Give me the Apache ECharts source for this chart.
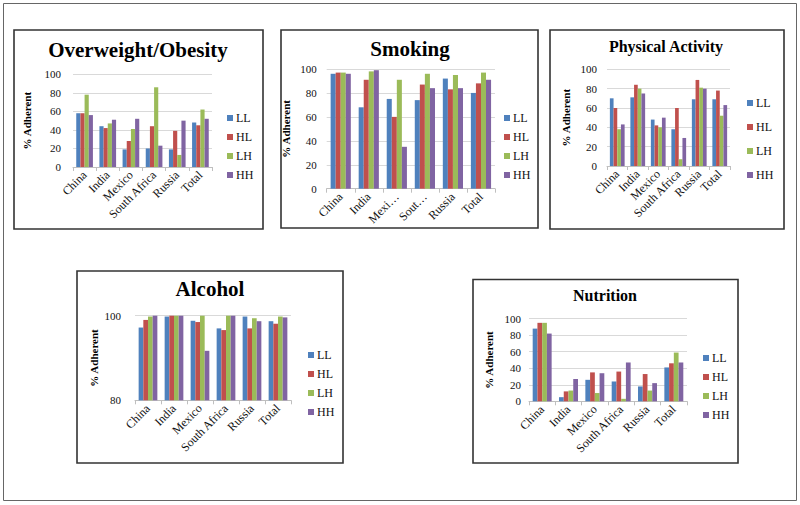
<!DOCTYPE html>
<html>
<head>
<meta charset="utf-8">
<script src="https://cdn.jsdelivr.net/npm/echarts@6/dist/echarts.min.js"></script>
<style>
html,body{margin:0;padding:0;background:#fff;}
#chart{width:800px;height:505px;}
</style>
</head>
<body>
<div id="chart"></div>
<script>
// ---------- data ----------
const categories = ['China', 'India', 'Mexico', 'South Africa', 'Russia', 'Total'];
const smokingLabels = ['China', 'India', 'Mexi…', 'Sout…', 'Russia', 'Total'];
const seriesNames = ['LL', 'HL', 'LH', 'HH'];

const overweightLL = [58, 44, 19, 20, 19, 48];
const overweightHL = [58, 42, 28, 44, 39, 45];
const overweightLH = [78, 47, 41, 86, 13, 62];
const overweightHH = [56, 51, 52, 23, 50, 52];

const smokingLL = [96, 68, 75, 74, 92, 80];
const smokingHL = [97, 91, 60, 87, 83, 88];
const smokingLH = [97, 98, 91, 96, 95, 97];
const smokingHH = [96, 99, 35, 84, 84, 91];

const activityLL = [70, 71, 48, 38, 69, 69];
const activityHL = [60, 84, 42, 60, 89, 78];
const activityLH = [38, 80, 40, 7, 81, 52];
const activityHH = [43, 75, 50, 29, 80, 63];

const alcoholLL = [97.2, 99.8, 98.8, 97.0, 99.8, 98.7];
const alcoholHL = [99.0, 100, 98.5, 96.6, 97.0, 98.1];
const alcoholLH = [99.8, 100, 100, 100, 99.4, 99.8];
const alcoholHH = [100, 100, 91.7, 100, 98.7, 99.6];

const nutritionLL = [88, 5, 26, 24, 18, 41];
const nutritionHL = [95, 12, 35, 36, 33, 46];
const nutritionLH = [95, 13, 10, 3, 13, 59];
const nutritionHH = [82, 27, 34, 47, 22, 47];

const yTicks100 = {min: 0, max: 100, interval: 20};
const yTicksAlcohol = {min: 80, max: 100, interval: 20};

// ---------- layout / style ----------
const colors = ['#4F81BD', '#C0504D', '#9BBB59', '#8064A2'];
const FONT = '"Liberation Serif", "Times New Roman", serif';

const panels = [
  {title: 'Overweight/Obesity', tSize: 21, tx: 138, ty: 52, data: [overweightLL, overweightHL, overweightLH, overweightHH],
   labels: categories, y: yTicks100, grid: {left: 73, top: 74.3, width: 139, height: 92.7}, labelMargin: 12, nameGap: 41,
   legend: {left: 227, top: 112, gap: 7}, box: [14, 30, 249, 199]},
  {title: 'Smoking', tSize: 21, tx: 410, ty: 51, data: [smokingLL, smokingHL, smokingLH, smokingHH],
   labels: smokingLabels, y: yTicks100, grid: {left: 326.7, top: 69, width: 168.3, height: 119.7}, labelMargin: 10, nameGap: 35,
   legend: {left: 504, top: 112, gap: 7}, box: [281, 30, 257, 198]},
  {title: 'Physical Activity', tSize: 16, tx: 666, ty: 48, data: [activityLL, activityHL, activityLH, activityHH],
   labels: categories, y: yTicks100, grid: {left: 607, top: 69.3, width: 123, height: 96.7}, labelMargin: 10, nameGap: 36,
   legend: {left: 747, top: 97, gap: 12}, box: [550, 30, 234, 199]},
  {title: 'Alcohol', tSize: 21, tx: 210, ty: 291, data: [alcoholLL, alcoholHL, alcoholLH, alcoholHH],
   labels: categories, y: yTicksAlcohol, grid: {left: 135, top: 315.7, width: 156, height: 84.6}, labelMargin: 14, nameGap: 36,
   legend: {left: 308, top: 349, gap: 7}, box: [77, 271, 266, 192]},
  {title: 'Nutrition', tSize: 16, tx: 605, ty: 297, data: [nutritionLL, nutritionHL, nutritionLH, nutritionHH],
   labels: categories, y: yTicks100, grid: {left: 529, top: 318.7, width: 158, height: 82.6}, labelMargin: 8, nameGap: 35,
   legend: {left: 703, top: 352, gap: 7}, box: [473, 279.5, 265, 183.5]}
];

const option = {
  animation: false,
  color: colors,
  title: [], grid: [], xAxis: [], yAxis: [], legend: [], series: [],
  graphic: [
    {type: 'rect', shape: {x: 3.5, y: 3.5, width: 793, height: 497}, style: {fill: 'none', stroke: '#666', lineWidth: 1}, silent: true}
  ]
};

panels.forEach((p, i) => {
  option.graphic.push({type: 'rect', shape: {x: p.box[0], y: p.box[1], width: p.box[2], height: p.box[3]},
    style: {fill: 'none', stroke: '#333', lineWidth: 1.6}, silent: true});
  option.title.push({
    text: p.title, left: p.tx, top: p.ty - p.tSize * 0.6, textAlign: 'center', padding: 0,
    textStyle: {fontFamily: FONT, fontSize: p.tSize, fontWeight: 'bold', color: '#000'}
  });
  option.grid.push(Object.assign({containLabel: false}, p.grid));
  option.xAxis.push({
    type: 'category', gridIndex: i, data: p.labels,
    axisLine: {show: true, lineStyle: {color: '#bfbfbf', width: 1}},
    axisTick: {show: true, length: 4, lineStyle: {color: '#bfbfbf'}},
    axisLabel: {rotate: 45, interval: 0, margin: 6, fontFamily: FONT, fontSize: 12, color: '#111'},
    splitLine: {show: false}
  });
  option.yAxis.push({
    type: 'value', gridIndex: i, min: p.y.min, max: p.y.max, interval: p.y.interval,
    name: '% Adherent', nameLocation: 'middle', nameRotate: 90, nameGap: p.nameGap,
    nameTextStyle: {fontFamily: FONT, fontSize: 11, fontWeight: 'bold', color: '#000'},
    axisLine: {show: false}, axisTick: {show: false},
    axisLabel: {margin: p.labelMargin, fontFamily: FONT, fontSize: 11, color: '#111'},
    splitLine: {show: true, lineStyle: {color: '#d9d9d9', width: 1}}
  });
  option.legend.push({
    orient: 'vertical', left: p.legend.left, top: p.legend.top, padding: 0,
    itemWidth: 6, itemHeight: 6, itemGap: p.legend.gap, icon: 'rect', selectedMode: false,
    data: seriesNames,
    textStyle: {fontFamily: FONT, fontSize: 12, color: '#111', lineHeight: 12, padding: [0, 0, 0, -2]}
  });
  seriesNames.forEach((name, k) => {
    option.series.push({
      type: 'bar', name: name, xAxisIndex: i, yAxisIndex: i, data: p.data[k],
      barGap: '0%', barCategoryGap: '28%',
      itemStyle: {color: colors[k]}
    });
  });
});

const chart = echarts.init(document.getElementById('chart'), null, {renderer: 'svg'});
chart.setOption(option);
</script>
</body>
</html>
